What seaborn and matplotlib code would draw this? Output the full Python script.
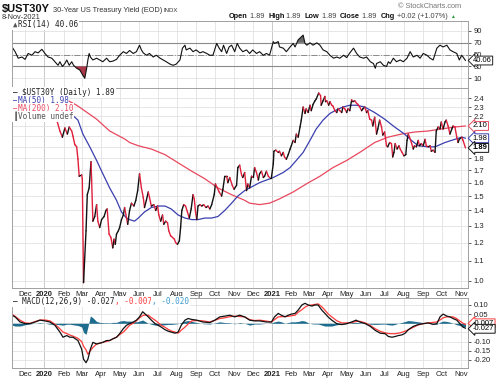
"""$UST30Y daily chart with RSI and MACD panels, StockCharts style."""

import matplotlib

matplotlib.use("Agg")
import matplotlib.pyplot as plt
import numpy as np
import pandas as pd
import seaborn as sns

# ---- price (30-year yield) ----
price_dates = [
    "2020-01-21", "2020-01-26", "2020-01-30", "2020-02-03", "2020-02-07", "2020-02-10", "2020-02-14",
    "2020-02-16", "2020-02-19", "2020-02-22", "2020-02-24", "2020-02-26", "2020-03-01", "2020-03-02",
    "2020-03-04", "2020-03-08", "2020-03-10", "2020-03-13", "2020-03-16", "2020-03-17", "2020-03-19",
    "2020-03-22", "2020-03-25", "2020-03-27", "2020-03-30", "2020-04-02", "2020-04-06", "2020-04-09",
    "2020-04-11", "2020-04-14", "2020-04-17", "2020-04-20", "2020-04-22", "2020-04-24", "2020-04-26",
    "2020-04-29", "2020-05-01", "2020-05-04", "2020-05-07", "2020-05-09", "2020-05-14", "2020-05-17",
    "2020-05-20", "2020-05-24", "2020-05-27", "2020-05-30", "2020-06-02", "2020-06-05", "2020-06-08",
    "2020-06-10", "2020-06-13", "2020-06-16", "2020-06-18", "2020-06-21", "2020-06-25", "2020-06-28",
    "2020-07-01", "2020-07-03", "2020-07-06", "2020-07-09", "2020-07-11", "2020-07-14", "2020-07-17",
    "2020-07-19", "2020-07-22", "2020-07-25", "2020-07-28", "2020-07-30", "2020-08-02", "2020-08-05",
    "2020-08-07", "2020-08-09", "2020-08-12", "2020-08-15", "2020-08-18", "2020-08-21", "2020-08-24",
    "2020-08-27", "2020-08-29", "2020-08-31", "2020-09-02", "2020-09-04", "2020-09-07", "2020-09-10",
    "2020-09-13", "2020-09-17", "2020-09-20", "2020-09-23", "2020-09-26", "2020-09-30", "2020-10-02",
    "2020-10-05", "2020-10-08", "2020-10-12", "2020-10-14", "2020-10-17", "2020-10-20", "2020-10-22",
    "2020-10-25", "2020-10-29", "2020-11-01", "2020-11-05", "2020-11-07", "2020-11-10", "2020-11-13",
    "2020-11-15", "2020-11-18", "2020-11-21", "2020-11-23", "2020-11-26", "2020-11-29", "2020-12-02",
    "2020-12-04", "2020-12-07", "2020-12-10", "2020-12-12", "2020-12-15", "2020-12-18", "2020-12-20",
    "2020-12-23", "2020-12-26", "2020-12-28", "2020-12-31", "2021-01-03", "2021-01-04", "2021-01-07",
    "2021-01-11", "2021-01-13", "2021-01-16", "2021-01-19", "2021-01-21", "2021-01-24", "2021-01-27",
    "2021-01-30", "2021-02-01", "2021-02-04", "2021-02-07", "2021-02-09", "2021-02-12", "2021-02-15",
    "2021-02-17", "2021-02-20", "2021-02-23", "2021-02-25", "2021-02-28", "2021-03-03", "2021-03-05",
    "2021-03-08", "2021-03-11", "2021-03-13", "2021-03-17", "2021-03-20", "2021-03-21", "2021-03-24",
    "2021-03-27", "2021-03-28", "2021-03-30", "2021-04-02", "2021-04-04", "2021-04-07", "2021-04-09",
    "2021-04-12", "2021-04-15", "2021-04-17", "2021-04-20", "2021-04-23", "2021-04-25", "2021-04-28",
    "2021-05-01", "2021-05-03", "2021-05-06", "2021-05-09", "2021-05-11", "2021-05-14", "2021-05-17",
    "2021-05-19", "2021-05-22", "2021-05-25", "2021-05-27", "2021-05-30", "2021-06-02", "2021-06-04",
    "2021-06-07", "2021-06-10", "2021-06-12", "2021-06-15", "2021-06-18", "2021-06-20", "2021-06-23",
    "2021-06-26", "2021-06-28", "2021-07-01", "2021-07-04", "2021-07-06", "2021-07-09", "2021-07-12",
    "2021-07-14", "2021-07-16", "2021-07-18", "2021-07-21", "2021-07-24", "2021-07-26", "2021-07-29",
    "2021-08-01", "2021-08-04", "2021-08-06", "2021-08-08", "2021-08-10", "2021-08-13", "2021-08-16",
    "2021-08-18", "2021-08-21", "2021-08-24", "2021-08-26", "2021-08-29", "2021-09-01", "2021-09-04",
    "2021-09-06", "2021-09-09", "2021-09-12", "2021-09-14", "2021-09-17", "2021-09-20", "2021-09-22",
    "2021-09-25", "2021-09-28", "2021-09-30", "2021-10-03", "2021-10-06", "2021-10-08", "2021-10-11",
    "2021-10-14", "2021-10-17", "2021-10-19", "2021-10-22", "2021-10-25", "2021-10-27", "2021-10-29",
    "2021-11-02", "2021-11-04", "2021-11-08",
]
price_close = [
    2.16, 2.05, 1.99, 2.08, 2.02, 2.09, 2.05,
    2.00, 1.92, 1.90, 1.79, 1.65, 1.66, 1.63,
    0.99, 1.27, 1.51, 1.56, 1.77, 1.62, 1.33,
    1.36, 1.44, 1.33, 1.29, 1.34, 1.36, 1.40,
    1.41, 1.25, 1.23, 1.17, 1.22, 1.19, 1.25,
    1.27, 1.29, 1.34, 1.37, 1.42, 1.31, 1.40,
    1.45, 1.43, 1.47, 1.54, 1.67, 1.56, 1.49,
    1.42, 1.47, 1.53, 1.49, 1.43, 1.44, 1.40,
    1.43, 1.37, 1.33, 1.37, 1.31, 1.33, 1.32,
    1.27, 1.24, 1.23, 1.22, 1.20, 1.19, 1.21,
    1.29, 1.40, 1.44, 1.43, 1.39, 1.35, 1.41,
    1.51, 1.48, 1.39, 1.34, 1.43, 1.44, 1.43,
    1.44, 1.42, 1.43, 1.41, 1.44, 1.51, 1.59,
    1.56, 1.53, 1.50, 1.55, 1.65, 1.65, 1.60,
    1.64, 1.58, 1.55, 1.58, 1.72, 1.74, 1.66,
    1.64, 1.68, 1.54, 1.59, 1.56, 1.65, 1.64,
    1.72, 1.68, 1.62, 1.67, 1.69, 1.64, 1.65,
    1.69, 1.65, 1.64, 1.64, 1.75, 1.86, 1.87,
    1.85, 1.86, 1.82, 1.85, 1.81, 1.79, 1.83,
    1.88, 1.91, 1.96, 1.94, 2.02, 1.99, 2.09,
    2.16, 2.30, 2.23, 2.28, 2.24, 2.32, 2.26,
    2.33, 2.37, 2.39, 2.46, 2.43, 2.32, 2.37,
    2.42, 2.36, 2.37, 2.32, 2.36, 2.32, 2.31,
    2.26, 2.24, 2.28, 2.26, 2.24, 2.30, 2.28,
    2.24, 2.28, 2.26, 2.38, 2.36, 2.37, 2.34,
    2.33, 2.30, 2.26, 2.28, 2.30, 2.24, 2.26,
    2.17, 2.16, 2.10, 2.19, 2.02, 2.07, 2.16,
    2.09, 2.01, 2.04, 1.91, 1.90, 1.94, 1.93,
    1.81, 1.85, 1.93, 1.88, 1.91, 1.88, 1.85,
    1.82, 1.83, 1.96, 2.02, 1.99, 1.94, 1.88,
    1.91, 1.90, 1.96, 1.91, 1.93, 1.91, 1.97,
    1.91, 1.90, 1.91, 1.86, 1.87, 1.85, 2.05,
    2.09, 2.07, 2.14, 2.07, 2.14, 2.16, 2.10,
    2.02, 2.07, 2.10, 2.09, 1.99, 1.94, 1.97,
    1.99, 1.96, 1.89,
]

ma50_dates = [
    "2020-01-31", "2020-02-14", "2020-02-24", "2020-03-03", "2020-03-14", "2020-03-25", "2020-04-04",
    "2020-04-15", "2020-04-26", "2020-05-04", "2020-05-12", "2020-05-17", "2020-05-25", "2020-05-31",
    "2020-06-10", "2020-06-21", "2020-07-02", "2020-07-13", "2020-07-23", "2020-08-03", "2020-08-14",
    "2020-08-25", "2020-09-04", "2020-09-15", "2020-09-26", "2020-10-06", "2020-10-17", "2020-10-28",
    "2020-11-07", "2020-11-18", "2020-11-26", "2020-12-12", "2021-01-03", "2021-01-19", "2021-01-30",
    "2021-02-09", "2021-02-20", "2021-03-03", "2021-03-13", "2021-03-24", "2021-04-04", "2021-04-15",
    "2021-04-25", "2021-05-06", "2021-05-17", "2021-05-30", "2021-06-15", "2021-07-01", "2021-07-17",
    "2021-08-02", "2021-08-13", "2021-08-24", "2021-09-09", "2021-09-20", "2021-10-06", "2021-10-22",
    "2021-11-02", "2021-11-08",
]
ma50_values = [
    2.24, 2.22, 2.16, 2.02, 1.90, 1.78, 1.67,
    1.56, 1.47, 1.39, 1.35, 1.34, 1.33, 1.35,
    1.39, 1.42, 1.43, 1.43, 1.41, 1.37, 1.35,
    1.34, 1.34, 1.35, 1.35, 1.36, 1.40, 1.45,
    1.50, 1.54, 1.56, 1.60, 1.64, 1.68, 1.72,
    1.78, 1.85, 1.96, 2.07, 2.16, 2.23, 2.27,
    2.30, 2.32, 2.32, 2.30, 2.24, 2.17, 2.09,
    2.02, 1.96, 1.91, 1.90, 1.90, 1.94, 1.97,
    1.99, 1.98,
]

ma200_dates = [
    "2019-12-14", "2020-01-02", "2020-01-21", "2020-01-29", "2020-02-22", "2020-03-25", "2020-04-15",
    "2020-05-10", "2020-05-17", "2020-05-31", "2020-06-21", "2020-07-13", "2020-08-03", "2020-08-25",
    "2020-09-15", "2020-10-06", "2020-10-28", "2020-11-18", "2020-11-26", "2020-12-12", "2020-12-28",
    "2021-01-13", "2021-02-04", "2021-02-25", "2021-03-19", "2021-04-09", "2021-05-01", "2021-05-22",
    "2021-06-15", "2021-07-06", "2021-07-28", "2021-08-18", "2021-09-09", "2021-09-30", "2021-10-22",
    "2021-11-08",
]
ma200_values = [
    2.56, 2.47, 2.42, 2.41, 2.32, 2.17, 2.05,
    1.97, 1.94, 1.91, 1.88, 1.83, 1.76, 1.69,
    1.63, 1.56, 1.51, 1.47, 1.45, 1.44, 1.45,
    1.48, 1.53, 1.59, 1.65, 1.72, 1.78, 1.85,
    1.94, 1.99, 2.02, 2.04, 2.05, 2.07, 2.09,
    2.10,
]

# ---- RSI(14) ----
rsi_dates = [
    "2019-11-10", "2019-11-15", "2019-11-20", "2019-11-26", "2019-12-01", "2019-12-06", "2019-12-12",
    "2019-12-17", "2019-12-22", "2019-12-28", "2020-01-02", "2020-01-07", "2020-01-13", "2020-01-18",
    "2020-01-23", "2020-01-26", "2020-01-30", "2020-02-03", "2020-02-06", "2020-02-10", "2020-02-14",
    "2020-02-17", "2020-02-22", "2020-02-27", "2020-03-03", "2020-03-06", "2020-03-09", "2020-03-11",
    "2020-03-13", "2020-03-15", "2020-03-19", "2020-03-25", "2020-03-30", "2020-04-04", "2020-04-10",
    "2020-04-15", "2020-04-20", "2020-04-26", "2020-05-01", "2020-05-07", "2020-05-12", "2020-05-17",
    "2020-05-23", "2020-05-28", "2020-06-02", "2020-06-05", "2020-06-08", "2020-06-13", "2020-06-18",
    "2020-06-24", "2020-06-29", "2020-07-05", "2020-07-10", "2020-07-15", "2020-07-21", "2020-07-26",
    "2020-07-31", "2020-08-06", "2020-08-10", "2020-08-14", "2020-08-16", "2020-08-22", "2020-08-27",
    "2020-09-01", "2020-09-07", "2020-09-12", "2020-09-18", "2020-09-23", "2020-09-28", "2020-10-04",
    "2020-10-08", "2020-10-12", "2020-10-15", "2020-10-20", "2020-10-24", "2020-10-28", "2020-11-02",
    "2020-11-06", "2020-11-10", "2020-11-15", "2020-11-21", "2020-11-26", "2020-12-01", "2020-12-07",
    "2020-12-12", "2020-12-18", "2020-12-23", "2020-12-28", "2021-01-03", "2021-01-05", "2021-01-11",
    "2021-01-13", "2021-01-19", "2021-01-24", "2021-01-30", "2021-02-04", "2021-02-07", "2021-02-12",
    "2021-02-15", "2021-02-20", "2021-02-23", "2021-02-26", "2021-03-03", "2021-03-08", "2021-03-14",
    "2021-03-19", "2021-03-24", "2021-03-30", "2021-04-04", "2021-04-10", "2021-04-15", "2021-04-20",
    "2021-04-26", "2021-05-01", "2021-05-06", "2021-05-12", "2021-05-17", "2021-05-22", "2021-05-28",
    "2021-06-02", "2021-06-08", "2021-06-13", "2021-06-16", "2021-06-18", "2021-06-24", "2021-06-29",
    "2021-07-04", "2021-07-07", "2021-07-10", "2021-07-15", "2021-07-20", "2021-07-26", "2021-07-31",
    "2021-08-06", "2021-08-11", "2021-08-16", "2021-08-22", "2021-08-27", "2021-09-01", "2021-09-07",
    "2021-09-12", "2021-09-17", "2021-09-23", "2021-09-28", "2021-10-03", "2021-10-09", "2021-10-14",
    "2021-10-19", "2021-10-25", "2021-10-29", "2021-11-02", "2021-11-08",
]
rsi_values = [
    63, 55, 44, 46, 42, 52, 49,
    55, 53, 59, 52, 46, 44, 38,
    32, 38, 30, 35, 41, 32, 38,
    32, 27, 24, 15, 10, 27, 41,
    52, 46, 41, 44, 41, 38, 44,
    38, 39, 42, 49, 55, 52, 57,
    52, 55, 66, 58, 53, 49, 52,
    46, 49, 44, 41, 38, 34, 32,
    34, 41, 61, 66, 58, 61, 55,
    58, 53, 55, 52, 49, 49, 69,
    61, 55, 66, 52, 63, 66, 55,
    69, 61, 55, 58, 52, 58, 52,
    55, 49, 52, 49, 72, 69, 72,
    63, 61, 55, 63, 69, 63, 75,
    78, 83, 69, 66, 70, 66, 70,
    66, 58, 55, 49, 44, 46, 44,
    49, 45, 53, 61, 52, 46, 44,
    46, 38, 35, 27, 35, 38, 32,
    30, 38, 35, 44, 38, 41, 38,
    44, 55, 46, 49, 44, 52, 49,
    44, 41, 61, 66, 63, 66, 58,
    55, 52, 41, 49, 40.06,
]

# ---- MACD(12,26,9) ----
macd_dates = [
    "2019-11-10", "2019-11-15", "2019-11-23", "2019-12-01", "2019-12-09", "2019-12-17", "2019-12-25",
    "2020-01-02", "2020-01-10", "2020-01-18", "2020-01-26", "2020-01-31", "2020-02-06", "2020-02-11",
    "2020-02-16", "2020-02-24", "2020-03-01", "2020-03-04", "2020-03-08", "2020-03-11", "2020-03-15",
    "2020-03-19", "2020-03-25", "2020-03-30", "2020-04-04", "2020-04-10", "2020-04-15", "2020-04-20",
    "2020-04-26", "2020-05-01", "2020-05-07", "2020-05-12", "2020-05-17", "2020-05-23", "2020-05-28",
    "2020-06-02", "2020-06-07", "2020-06-10", "2020-06-16", "2020-06-21", "2020-06-27", "2020-07-02",
    "2020-07-07", "2020-07-13", "2020-07-18", "2020-07-23", "2020-07-29", "2020-08-03", "2020-08-08",
    "2020-08-14", "2020-08-19", "2020-08-25", "2020-09-02", "2020-09-12", "2020-09-23", "2020-10-01",
    "2020-10-09", "2020-10-17", "2020-10-25", "2020-11-02", "2020-11-10", "2020-11-18", "2020-11-26",
    "2020-12-04", "2020-12-12", "2020-12-23", "2020-12-31", "2021-01-05", "2021-01-11", "2021-01-16",
    "2021-01-22", "2021-01-27", "2021-02-01", "2021-02-07", "2021-02-12", "2021-02-18", "2021-02-23",
    "2021-02-28", "2021-03-06", "2021-03-11", "2021-03-16", "2021-03-22", "2021-03-27", "2021-04-01",
    "2021-04-07", "2021-04-15", "2021-04-23", "2021-05-01", "2021-05-09", "2021-05-16", "2021-05-22",
    "2021-05-31", "2021-06-08", "2021-06-16", "2021-06-24", "2021-07-02", "2021-07-07", "2021-07-13",
    "2021-07-18", "2021-07-23", "2021-07-29", "2021-08-03", "2021-08-08", "2021-08-16", "2021-08-24",
    "2021-09-01", "2021-09-09", "2021-09-17", "2021-09-23", "2021-09-28", "2021-10-03", "2021-10-09",
    "2021-10-14", "2021-10-19", "2021-10-25", "2021-10-30", "2021-11-04", "2021-11-08",
]
macd_line = [
    0.044, 0.035, 0.007, -0.002, -0.002, 0.007, 0.017,
    0.013, 0.007, -0.011, -0.048, -0.076, -0.067, -0.076,
    -0.076, -0.094, -0.141, -0.196, -0.215, -0.196, -0.141,
    -0.104, -0.113, -0.109, -0.104, -0.094, -0.094, -0.085,
    -0.076, -0.057, -0.029, -0.011, -0.002, 0.007, 0.017,
    0.035, 0.063, 0.054, 0.035, 0.017, -0.002, -0.011,
    -0.021, -0.035, -0.043, -0.048, -0.054, -0.048, -0.011,
    0.017, 0.026, 0.021, 0.017, 0.007, 0.004, 0.017,
    0.035, 0.039, 0.044, 0.035, 0.044, 0.035, 0.017,
    0.013, 0.013, 0.007, 0.007, 0.035, 0.054, 0.044,
    0.035, 0.044, 0.050, 0.054, 0.072, 0.100, 0.109,
    0.100, 0.094, 0.100, 0.100, 0.072, 0.054, 0.035,
    0.017, -0.002, -0.007, -0.002, 0.007, 0.017, 0.007,
    -0.002, -0.017, -0.039, -0.054, -0.057, -0.072, -0.076,
    -0.072, -0.067, -0.063, -0.054, -0.035, -0.017, -0.007,
    -0.002, 0.002, -0.006, -0.002, 0.035, 0.050, 0.039,
    0.035, 0.026, 0.017, -0.002, -0.021, -0.027,
]
macd_signal = [
    0.050, 0.038, 0.017, 0.002, 0.000, 0.009, 0.018,
    0.018, 0.013, -0.005, -0.030, -0.048, -0.056, -0.064,
    -0.070, -0.082, -0.100, -0.125, -0.145, -0.169, -0.150,
    -0.132, -0.113, -0.108, -0.104, -0.099, -0.094, -0.085,
    -0.076, -0.062, -0.048, -0.030, -0.011, 0.001, 0.013,
    0.030, 0.042, 0.045, 0.044, 0.031, 0.017, 0.003,
    -0.011, -0.022, -0.033, -0.042, -0.048, -0.054, -0.038,
    -0.021, -0.004, 0.013, 0.015, 0.013, 0.007, 0.016,
    0.026, 0.030, 0.036, 0.039, 0.037, 0.035, 0.020,
    0.015, 0.017, 0.012, 0.007, 0.020, 0.035, 0.036,
    0.037, 0.038, 0.041, 0.044, 0.060, 0.074, 0.088,
    0.097, 0.100, 0.103, 0.106, 0.090, 0.072, 0.052,
    0.035, 0.014, 0.002, 0.002, 0.004, 0.010, 0.011,
    0.002, -0.012, -0.030, -0.044, -0.052, -0.056, -0.057,
    -0.057, -0.054, -0.049, -0.043, -0.036, -0.022, -0.009,
    -0.002, 0.002, 0.005, 0.007, 0.018, 0.030, 0.035,
    0.035, 0.035, 0.025, 0.012, 0.000, -0.007,
]
macd_hist = [
    -0.010, -0.015, -0.015, -0.008, -0.003, 0.000, 0.003,
    0.000, -0.005, -0.005, -0.008, -0.010, -0.005, -0.005,
    -0.008, -0.012, -0.020, -0.050, -0.060, -0.020, 0.040,
    0.030, 0.010, 0.005, 0.003, 0.003, 0.002, 0.005,
    0.005, 0.012, 0.015, 0.012, 0.012, 0.010, 0.008,
    0.012, 0.018, 0.012, 0.000, -0.005, -0.010, -0.010,
    -0.010, -0.008, -0.006, -0.006, -0.004, -0.002, 0.005,
    0.012, 0.015, 0.010, 0.004, -0.002, -0.004, 0.002,
    0.008, 0.004, 0.003, -0.003, 0.004, 0.000, -0.010,
    -0.004, -0.004, 0.000, 0.002, 0.008, 0.012, 0.008,
    0.000, 0.004, 0.008, 0.008, 0.010, 0.015, 0.012,
    0.003, -0.003, -0.004, -0.004, -0.010, -0.015, -0.015,
    -0.015, -0.008, -0.005, -0.002, 0.004, 0.005, 0.003,
    0.000, -0.005, -0.006, -0.005, -0.004, -0.008, -0.010,
    -0.006, 0.000, 0.005, 0.010, 0.015, 0.012, 0.008,
    0.004, 0.000, -0.004, -0.005, 0.006, 0.012, 0.010,
    0.006, 0.000, -0.008, -0.012, -0.018, -0.020,
]

month_ticks = [
    "2019-12-01", "2020-01-01", "2020-02-01", "2020-03-01", "2020-04-01", "2020-05-01", "2020-06-01",
    "2020-07-01", "2020-08-01", "2020-09-01", "2020-10-01", "2020-11-01", "2020-12-01", "2021-01-01",
    "2021-02-01", "2021-03-01", "2021-04-01", "2021-05-01", "2021-06-01", "2021-07-01", "2021-08-01",
    "2021-09-01", "2021-10-01", "2021-11-01",
]
month_labels = [
    "Dec", "2020", "Feb", "Mar", "Apr", "May", "Jun", "Jul", "Aug", "Sep", "Oct", "Nov",
    "Dec", "2021", "Feb", "Mar", "Apr", "May", "Jun", "Jul", "Aug", "Sep", "Oct", "Nov",
]
price_grid = [1.0, 1.1, 1.2, 1.3, 1.4, 1.5, 1.6, 1.7, 1.8, 1.9, 2.0, 2.1, 2.2, 2.3, 2.4]
price_ticks = [1.0, 1.1, 1.2, 1.3, 1.4, 1.5, 1.6, 1.7, 1.8, 2.2, 2.3, 2.4]
rsi_ticks = [10, 30, 50, 70, 90]
macd_grid = [-0.20, -0.15, -0.10, -0.05, 0.00, 0.05, 0.10]
macd_ticks = [-0.20, -0.15, -0.10, 0.05, 0.10]

UP, DOWN = "#111111", "#e0203c"
MA50_C, MA200_C = "#3a3fae", "#e8485e"
HIST_C = "#1d6c8e"
GRID, YEAR_GRID, FRAME = "#e2e2e2", "#c0c0c0", "#a0a0a0"
FS = 5.5
W, H = 500, 379

sns.set_theme(style="white")
plt.rcParams["font.family"] = ["Liberation Sans", "DejaVu Sans"]

fig = plt.figure(figsize=(W / 100, H / 100), dpi=100)
fig.patch.set_facecolor("white")


def box(x0, y0, x1, y1):
    return [x0 / W, 1 - y1 / H, (x1 - x0) / W, (y1 - y0) / H]


ax_rsi = fig.add_axes(box(12, 21, 468, 88))
ax_px = fig.add_axes(box(12, 88, 468, 288))
ax_macd = fig.add_axes(box(12, 298, 468, 368))

xmin, xmax = pd.Timestamp("2019-11-10"), pd.Timestamp("2021-11-12")
ticks_dt = pd.to_datetime(month_ticks)

for ax in (ax_rsi, ax_px, ax_macd):
    ax.set_xlim(xmin, xmax)
    for d, lab in zip(ticks_dt, month_labels):
        ax.axvline(d, color=YEAR_GRID if lab.isdigit() else GRID, lw=0.6, zorder=0)
    for sp in ax.spines.values():
        sp.set_color(FRAME)
        sp.set_linewidth(0.7)
    ax.yaxis.tick_right()
    ax.tick_params(axis="y", labelsize=FS, length=2, width=0.5, pad=2, colors="#222222", direction="out")
    ax.tick_params(axis="x", labelsize=FS, length=0, pad=2, colors="#222222")
    ax.set_xticks(ticks_dt)
    ax.set_xticklabels(month_labels)
    for t, lab in zip(ax.get_xticklabels(), month_labels):
        if lab.isdigit():
            t.set_fontweight("bold")
    ax.set_facecolor("white")

ax_rsi.set_xticklabels([])


def tag(ax, y, text, edge, weight="normal", color="black"):
    ax.annotate(text, xy=(1, y), xycoords=("axes fraction", "data"), xytext=(3.5, 0),
                textcoords="offset points", ha="left", va="center", fontsize=FS,
                fontweight=weight, color=color, annotation_clip=False, zorder=10,
                bbox=dict(boxstyle="larrow,pad=0.12", fc="white", ec=edge, lw=0.7))


def text_run(x, y, pieces, size=FS, family=None, bg=False):
    r = fig.canvas.get_renderer()
    for s, color, weight in pieces:
        kw = dict(color=color, fontsize=size, fontweight=weight, va="baseline", ha="left")
        if family:
            kw["family"] = family
        if bg:
            kw["bbox"] = dict(fc="white", ec="none", pad=0.6)
        t = fig.text(x / W, 1 - y / H, s, **kw)
        x += t.get_window_extent(r).width
    return x


# ---- RSI panel ----
rd = pd.to_datetime(rsi_dates)
rv = np.array(rsi_values, dtype=float)
ax_rsi.set_ylim(-6.4, 106.9)
ax_rsi.set_yticks(rsi_ticks)
for v in rsi_ticks:
    ax_rsi.axhline(v, color=GRID, lw=0.6, zorder=0)
ax_rsi.axhline(70, color="#8a8a8a", lw=0.8, zorder=1)
ax_rsi.axhline(30, color="#8a8a8a", lw=0.8, zorder=1)
ax_rsi.axhline(50, color="#8a8a8a", lw=0.7, ls="-.", zorder=1)
ax_rsi.fill_between(rd, rv, 30, where=rv < 30, interpolate=True, color="#a8384a", lw=0, zorder=2)
ax_rsi.fill_between(rd, rv, 70, where=rv > 70, interpolate=True, color="#6a6a6a", lw=0, zorder=2)
sns.lineplot(x=rd, y=rv, ax=ax_rsi, color="#111111", linewidth=0.8, sort=False)
ax_rsi.set_xlabel("")
ax_rsi.set_ylabel("")
tag(ax_rsi, 40.06, "40.06", "#222222")

# ---- price panel ----
ax_px.set_yscale("log")
ax_px.set_ylim(0.965, 2.52)
ax_px.set_yticks(price_ticks)
ax_px.set_yticklabels([f"{v:.1f}" for v in price_ticks])
ax_px.minorticks_off()
for v in price_grid:
    ax_px.axhline(v, color=GRID, lw=0.6, zorder=0)

pdt = pd.to_datetime(price_dates)
sns.lineplot(x=pd.to_datetime(ma200_dates), y=ma200_values, ax=ax_px, color=MA200_C, linewidth=0.9)
sns.lineplot(x=pd.to_datetime(ma50_dates), y=ma50_values, ax=ax_px, color=MA50_C, linewidth=0.9)
for i in range(1, len(price_close)):
    c = UP if price_close[i] >= price_close[i - 1] else DOWN
    ax_px.plot(pdt[i - 1:i + 1], price_close[i - 1:i + 1], color=c, lw=1.0, solid_capstyle="round", zorder=3)
ax_px.set_xlabel("")
ax_px.set_ylabel("")
ax_px.set_ylim(0.965, 2.52)
ax_px.set_xlim(xmin, xmax)
tag(ax_px, 2.10, "2.10", MA200_C)
tag(ax_px, 1.98, "1.98", MA50_C)
tag(ax_px, 1.89, "1.89", "#111111", weight="bold")

# ---- MACD panel ----
md = pd.to_datetime(macd_dates)
ax_macd.set_ylim(-0.244, 0.138)
ax_macd.set_yticks(macd_ticks)
ax_macd.set_yticklabels([f"{v:.2f}" for v in macd_ticks])
for v in macd_grid:
    ax_macd.axhline(v, color=GRID, lw=0.6, zorder=0)
ax_macd.fill_between(md, 0, macd_hist, color=HIST_C, lw=0, zorder=2)
sns.lineplot(x=md, y=macd_signal, ax=ax_macd, color="#ff3b3b", linewidth=0.9)
sns.lineplot(x=md, y=macd_line, ax=ax_macd, color="#111111", linewidth=0.9)
ax_macd.set_xlabel("")
ax_macd.set_ylabel("")
tag(ax_macd, 0.0, "-0.007", "#ff3b3b")
tag(ax_macd, -0.03, "-0.027", "#111111")

# ---- header ----
text_run(2, 12, [("$UST30Y", "#111111", "bold")], size=8)
text_run(53, 11.5, [("30-Year US Treasury Yield (EOD)", "#333333", "normal")], size=5.3)
text_run(163, 11.5, [("INDX", "#333333", "normal")], size=4.3)
text_run(2, 19, [("8-Nov-2021", "#333333", "normal")], size=5.3)
text_run(398, 8, [("\u00a9 StockCharts.com", "#777777", "normal")], size=5.3)
end = text_run(229, 18.5, [
    ("Open", "#111111", "bold"), (" 1.89  ", "#444444", "normal"),
    ("High", "#111111", "bold"), (" 1.89  ", "#444444", "normal"),
    ("Low", "#111111", "bold"), (" 1.89  ", "#444444", "normal"),
    ("Close", "#111111", "bold"), (" 1.89  ", "#444444", "normal"),
    ("Chg", "#111111", "bold"), (" +0.02 (+1.07%) ", "#444444", "normal"),
], size=5.3)
fig.text((end + 1) / W, 1 - 18.5 / H, "\u25b2", color="#2a9a3a", fontsize=3.5, va="baseline", ha="left")

# ---- panel legends ----
MONO = "DejaVu Sans Mono"
text_run(13, 27, [("\u25b2", "#555555", "normal"), ("RSI(14) 40.06", "#222222", "normal")], family=MONO, bg=True)
text_run(13, 95, [("\u2014 ", "#111111", "normal"), ("$UST30Y (Daily) 1.89", "#222222", "normal")], family=MONO, bg=True)
text_run(13, 103, [("\u2014", MA50_C, "normal"), ("MA(50) 1.98", MA50_C, "normal")], family=MONO, bg=True)
text_run(13, 111, [("\u2014", MA200_C, "normal"), ("MA(200) 2.10", MA200_C, "normal")], family=MONO, bg=True)
text_run(13, 119, [("\u2590", "#666666", "normal"), ("Volume undef", "#555555", "normal")], family=MONO, bg=True)
text_run(13, 304, [("\u2014 ", "#111111", "normal"), ("MACD(12,26,9) -0.027", "#222222", "normal"),
                   (", -0.007", "#ff3b3b", "normal"), (", -0.020", "#3a9ad0", "normal")], family=MONO, bg=True)

fig.savefig("out.png", dpi=100, facecolor="white")
